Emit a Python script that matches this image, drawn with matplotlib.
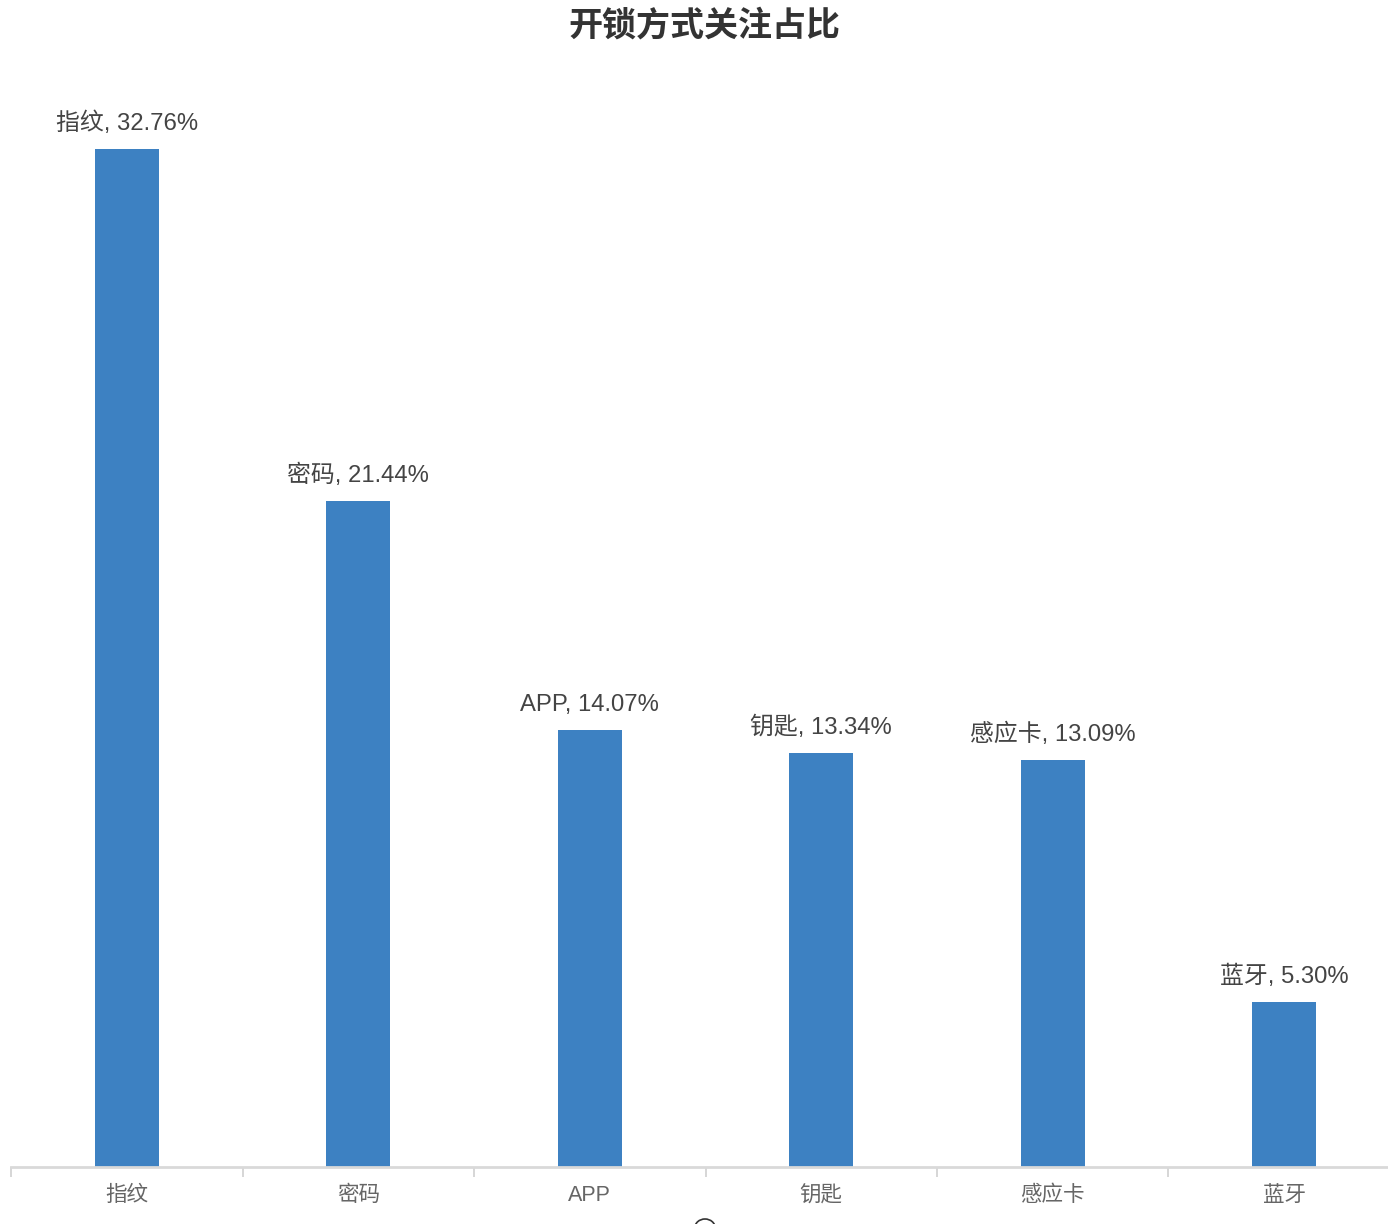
import matplotlib.pyplot as plt
import numpy as np
from matplotlib.patches import Circle

# Latin glyphs from Liberation Sans, Chinese falls back to Noto CJK
plt.rcParams["font.family"] = ["Liberation Sans", "Noto Sans CJK SC", "DejaVu Sans"]

categories = ["指纹", "密码", "APP", "钥匙", "感应卡", "蓝牙"]
shares = [32.76, 21.44, 14.07, 13.34, 13.09, 5.30]

fig = plt.figure(figsize=(13.88, 12.24), dpi=100)
# axes a bit wider than the figure, like the cropped original
ax = fig.add_axes([11.3 / 1388, 57 / 1224, 1388.4 / 1388, 1118.5 / 1224])

x = np.arange(len(categories))
ax.bar(x, shares, width=0.277, color="#3d81c2", zorder=2)
for xi, name, v in zip(x, categories, shares):
    ax.text(xi, v + 0.45, "%s, %.2f%%" % (name, v), ha="center", va="bottom",
            fontsize=17.2, color="#444444")

ax.set_xlim(-0.5, len(categories) - 0.5)
ax.set_ylim(0, 36)
ax.set_yticks([])
ax.set_xticks(x)
ax.set_xticklabels(categories, fontsize=15.5, color="#666666")
ax.set_xticks(np.arange(len(categories) + 1) - 0.5, minor=True)
ax.tick_params(axis="x", which="major", length=0, pad=13)
ax.tick_params(axis="x", which="minor", length=7, width=1.2, color="#cfcfcf", direction="out")
for s in ["top", "right", "left"]:
    ax.spines[s].set_visible(False)
ax.spines["bottom"].set_color("#d9d9d9")
ax.spines["bottom"].set_linewidth(2)

fig.text(704.5 / 1388, 1 - 26 / 1224, "开锁方式关注占比", ha="center", va="center",
         fontsize=24.5, fontweight="bold", color="#333333")

fig.patches.append(Circle((705 / 1388, -4 / 1224), 9 / 1224, transform=fig.transFigure,
                          fill=False, edgecolor="#333333", linewidth=1.2))

fig.savefig("out.png", dpi=100)
